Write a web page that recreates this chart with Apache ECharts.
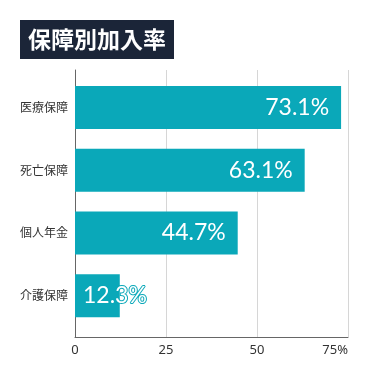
<!DOCTYPE html>
<html><head><meta charset="utf-8">
<script src="https://cdn.jsdelivr.net/npm/echarts@6/dist/echarts.min.js"></script>
<style>html,body{margin:0;padding:0;background:#fff}#c{width:375px;height:375px}</style>
</head><body><div id="c"></div>
<script>
const categories = ['医療保障', '死亡保障', '個人年金', '介護保障'];
const values = [73.1, 63.1, 44.7, 12.3];
const tickValues = [0, 25, 50, 75];
const titleText = '保障別加入率';

const teal = '#0aa8b9';
const chart = echarts.init(document.getElementById('c'));
chart.setOption({
  animation: false,
  title: {
    text: titleText, left: 20, top: 20,
    backgroundColor: '#1b2538', padding: [8, 8],
    textStyle: { color: '#fff', fontSize: 23, fontWeight: 'bold', lineHeight: 23, fontFamily: 'Noto Sans CJK JP' }
  },
  grid: [
    { left: 75, right: 27, top: 70, bottom: 38 },
    { left: 75, right: 27, top: 76, bottom: 48 }
  ],
  xAxis: [
    { type: 'value', gridIndex: 0, min: 0, max: 75, interval: 25,
      axisLine: { show: true, lineStyle: { color: '#666', width: 1 } },
      axisTick: { show: false },
      splitLine: { lineStyle: { color: '#d6d6d6', width: 1 } },
      axisLabel: { color: '#333', fontSize: 13, margin: 7, fontFamily: 'Noto Sans',
        alignMaxLabel: 'right',
        formatter: v => v === 75 ? '75%' : String(v) } },
    { type: 'value', gridIndex: 1, min: 0, max: 75, show: false }
  ],
  yAxis: [
    { type: 'value', gridIndex: 0, min: 0, max: 1, axisLabel: { show: false }, splitLine: { show: false },
      axisLine: { show: true, lineStyle: { color: '#666', width: 1 } }, axisTick: { show: false } },
    { type: 'category', gridIndex: 1, data: categories, inverse: true,
      axisLine: { show: false }, axisTick: { show: false },
      axisLabel: { color: '#333', fontSize: 12, margin: 7, fontFamily: 'Noto Sans CJK JP' } }
  ],
  series: [{
    type: 'bar', xAxisIndex: 1, yAxisIndex: 1,
    data: values.map((v, i) => ({
      value: v,
      label: i === values.length - 1 ? { position: 'insideLeft', distance: 8 } : {}
    })),
    barWidth: 43,
    itemStyle: { color: teal },
    label: {
      show: true, position: 'insideRight', distance: 12,
      color: '#fff', fontSize: 23, fontFamily: 'Lato',
      textBorderColor: teal, textBorderWidth: 2,
      formatter: p => p.value.toFixed(1) + '%'
    }
  }]
});
</script></body></html>
